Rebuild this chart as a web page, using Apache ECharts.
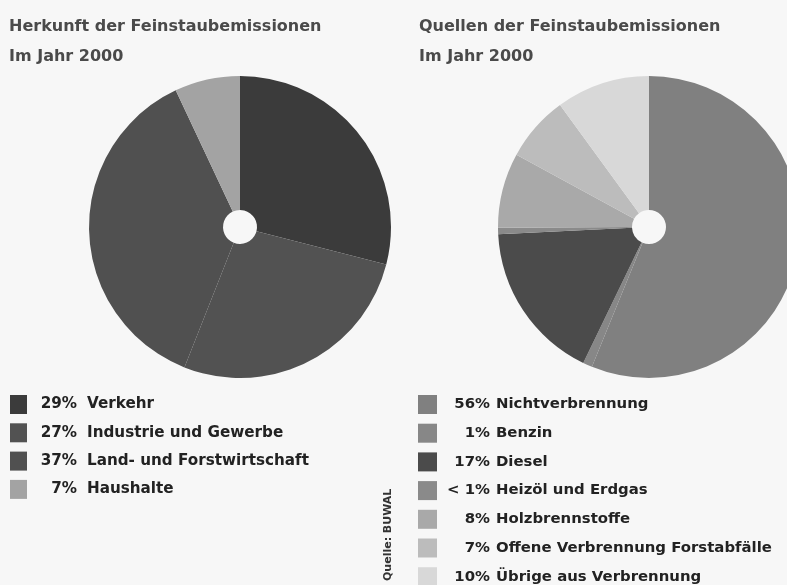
<!DOCTYPE html>
<html><head><meta charset="utf-8">
<script src="https://cdn.jsdelivr.net/npm/echarts@6/dist/echarts.min.js"></script>
<style>html,body{margin:0;padding:0;background:#f7f7f7}#c{width:787px;height:585px}</style>
</head><body><div id="c"></div>
<script>
const leftTitle = "Herkunft der Feinstaubemissionen";
const rightTitle = "Quellen der Feinstaubemissionen";
const subTitle = "Im Jahr 2000";
const leftNames = ["Verkehr", "Industrie und Gewerbe", "Land- und Forstwirtschaft", "Haushalte"];
const leftValues = [29, 27, 37, 7];
const leftPctLabels = ["29%", "27%", "37%", "7%"];
const leftColors = ["#3b3b3b", "#525252", "#505050", "#a3a3a3"];
const rightNames = ["Nichtverbrennung", "Benzin", "Diesel", "Heizöl und Erdgas", "Holzbrennstoffe", "Offene Verbrennung Forstabfälle", "Übrige aus Verbrennung"];
const rightValues = [56, 1, 17, 0.7, 8, 7, 10];
const rightPctLabels = ["56%", "1%", "17%", "< 1%", "8%", "7%", "10%"];
const rightColors = ["#808080", "#878787", "#4b4b4b", "#8a8a8a", "#a9a9a9", "#bcbcbc", "#d8d8d8"];
const sourceText = "Quelle: BUWAL";

const FONT = "DejaVu Sans, sans-serif";
const chart = echarts.init(document.getElementById('c'), null, {renderer: 'canvas'});

function pctMap(names, pcts) { const m = {}; names.forEach((n, i) => m[n] = pcts[i]); return m; }
const lMap = pctMap(leftNames, leftPctLabels);
const rMap = pctMap(rightNames, rightPctLabels);

function legendRich(w, size, gap) {
  return {
    p: {width: w, align: 'right', fontSize: size, fontWeight: 'bold', color: '#222', fontFamily: FONT},
    n: {align: 'right', padding: [0, 0, 0, gap], fontSize: size, fontWeight: 'bold', color: '#222', fontFamily: FONT}
  };
}
const titleStyle = {fontSize: 16, fontWeight: 'bold', color: '#4a4a4a', fontFamily: FONT};

chart.setOption({
  backgroundColor: '#f7f7f7',
  animation: false,
  title: [
    {text: leftTitle, subtext: subTitle, left: 9, top: 19, padding: 0, itemGap: 14, textStyle: titleStyle, subtextStyle: titleStyle},
    {text: rightTitle, subtext: subTitle, left: 419, top: 19, padding: 0, itemGap: 14, textStyle: titleStyle, subtextStyle: titleStyle}
  ],
  legend: [
    {
      orient: 'vertical', left: 10, top: 395, padding: 0, itemWidth: 17, itemHeight: 19, itemGap: 9.3,
      icon: 'rect', data: leftNames, selectedMode: false,
      formatter: n => '{p|' + lMap[n] + '}{n|' + n + '}',
      textStyle: {rich: legendRich(45, 15.2, 10)}
    },
    {
      orient: 'vertical', left: 418, top: 395, padding: 0, height: 200, itemWidth: 19, itemHeight: 19, itemGap: 9.7,
      icon: 'rect', data: rightNames, selectedMode: false,
      formatter: n => '{p|' + rMap[n] + '}{n|' + n + '}',
      textStyle: {rich: legendRich(48, 14.9, 6)}
    }
  ],
  graphic: [{
    type: 'text', x: 383, y: 581, rotation: Math.PI / 2,
    style: {text: sourceText, fill: '#333', font: 'bold 11px ' + FONT}
  }],
  series: [
    {
      type: 'pie', center: [240, 227], radius: [17, 151], startAngle: 90, clockwise: true,
      label: {show: false}, labelLine: {show: false}, silent: true,
      itemStyle: {borderWidth: 0},
      data: leftNames.map((n, i) => ({name: n, value: leftValues[i], itemStyle: {color: leftColors[i]}}))
    },
    {
      type: 'pie', center: [649, 227], radius: [17, 151], startAngle: 90, clockwise: true,
      label: {show: false}, labelLine: {show: false}, silent: true,
      itemStyle: {borderWidth: 0},
      data: rightNames.map((n, i) => ({name: n, value: rightValues[i], itemStyle: {color: rightColors[i]}}))
    }
  ]
});
</script></body></html>
